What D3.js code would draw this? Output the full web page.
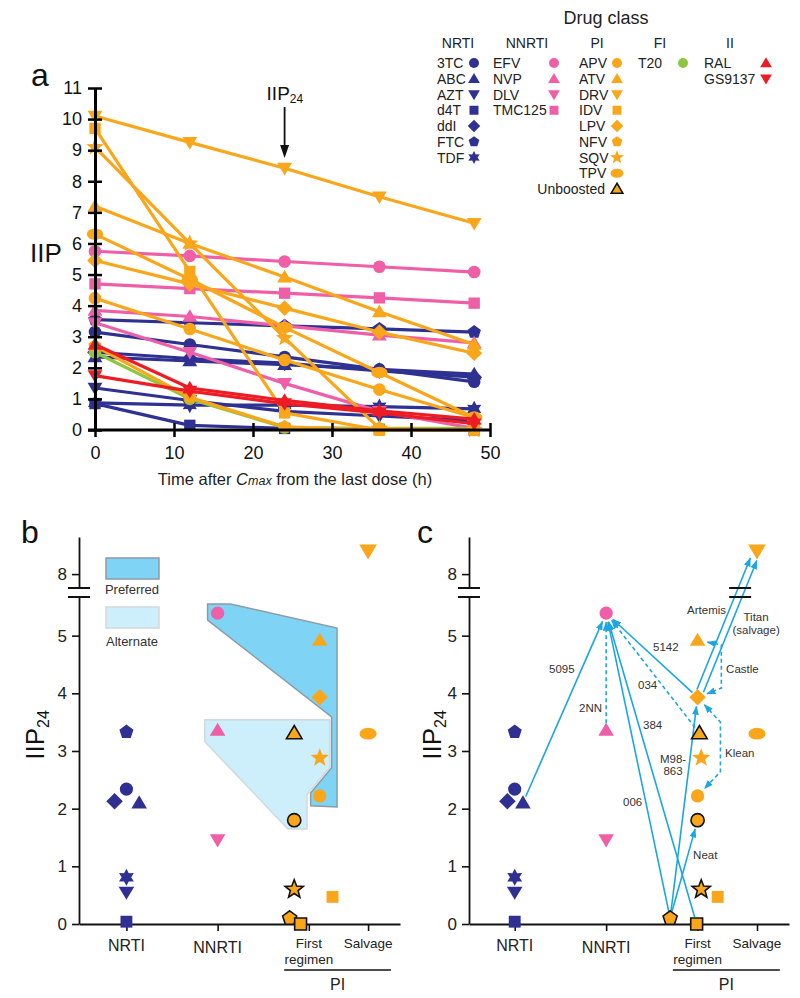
<!DOCTYPE html>
<html><head><meta charset="utf-8">
<script src="https://cdn.jsdelivr.net/npm/d3@7"></script>
<style>body{margin:0;background:#fff}</style>
</head><body><svg id="chart" width="800" height="998"></svg>
<script>
// ---------------- DATA ----------------
const times = [0, 12, 24, 36, 48];
const xTicksA = [0, 10, 20, 30, 40, 50];
const yTicksA = [0,1,2,3,4,5,6,7,8,9,10,11];

const nrtiNames = ["FTC","3TC","ddI","ABC","AZT","TDF","d4T"];
const nrtiValues = [
  [3.55,3.45,3.35,3.25,3.15],
  [3.15,2.75,2.35,1.95,1.55],
  [2.5,2.3,2.15,1.9,1.7],
  [2.35,2.22,2.1,1.95,1.8],
  [1.35,0.95,0.6,0.45,0.3],
  [0.87,0.8,0.8,0.75,0.68],
  [0.85,0.15,0.05,0.02,0.0]
];
const nnrtiNames = ["EFV","TMC125","NVP","DLV"];
const nnrtiValues = [
  [5.75,5.6,5.42,5.25,5.08],
  [4.7,4.55,4.4,4.25,4.08],
  [3.85,3.65,3.35,3.05,2.8],
  [3.45,2.5,1.5,0.6,0.05]
];
const fiNames = ["T20"];
const fiValues = [[2.5,1.0,0.08,0.05,0.05]];
const piNames = ["DRV","IDV","SQV","ATV","TPV","LPV","APV","NFV"];
const piValues = [
  [10.1,9.25,8.42,7.5,6.65],
  [9.7,5.1,0.55,0.0,0.0],
  [9.1,6.0,2.96,0.05,0.0],
  [7.2,6.0,4.92,3.8,2.75],
  [6.3,4.85,3.3,1.85,0.4],
  [5.45,4.7,3.92,3.15,2.47],
  [4.24,3.25,2.25,1.3,0.4],
  [2.7,1.05,0.1,0.0,0.0]
];
const iiNames = ["RAL","GS9137"];
const iiValues = [
  [2.75,1.35,0.95,0.62,0.35],
  [1.75,1.25,0.85,0.55,0.2]
];

const drugShape = {"3TC":"circle","ABC":"up","AZT":"down","d4T":"square","ddI":"diamond","FTC":"pentagon","TDF":"star6",
  "EFV":"circle","NVP":"up","DLV":"down","TMC125":"square",
  "APV":"circle","ATV":"up","DRV":"down","IDV":"square","LPV":"diamond","NFV":"pentagon","SQV":"star5","TPV":"ellipse",
  "T20":"circle","RAL":"up","GS9137":"down"};

const legendClasses = ["NRTI","NNRTI","PI","FI","II"];
const legendNRTI = ["3TC","ABC","AZT","d4T","ddI","FTC","TDF"];
const legendNNRTI = ["EFV","NVP","DLV","TMC125"];
const legendPI = ["APV","ATV","DRV","IDV","LPV","NFV","SQV","TPV"];
const legendFI = ["T20"];
const legendII = ["RAL","GS9137"];

// Panels b and c (IIP at 24 h)
const catNames = ["NRTI","NNRTI","First regimen","Salvage"];
const catPos = [1, 2, 3, 3.65];
const iipTicksLow = [0,1,2,3,4,5];
const iipTicksHigh = [8];
const iipDrug  = ["FTC","3TC","ddI","ABC","TDF","AZT","d4T","EFV","NVP","DLV","ATV","LPV","ATV","SQV","APV","APV","SQV","NFV","IDV","IDV","DRV","TPV"];
const iipClass = ["NRTI","NRTI","NRTI","NRTI","NRTI","NRTI","NRTI","NNRTI","NNRTI","NNRTI","PI","PI","PI","PI","PI","PI","PI","PI","PI","PI","PI","PI"];
const iipCat   = [0,0,0,0,0,0,0,1,1,1,2,2,2,2,2,2,2,2,2,2,3,3];
const iipUnboosted = [0,0,0,0,0,0,0,0,0,0,0,0,1,0,0,1,1,1,1,0,0,0];
const iipValue = [3.33,2.34,2.13,2.1,0.81,0.55,0.04,5.39,3.36,1.46,4.92,3.93,3.31,2.88,2.22,1.8,0.6,0.1,0.0,0.47,8.4,3.3];
const iipOffB  = [0,0,-0.13,0.14,0,0,0,0,0,0,0.12,0.12,-0.16,0.12,0.12,-0.16,-0.16,-0.21,-0.09,0.26,0,0];
const iipOffC  = [0,0,-0.08,0.09,0,0,0,0,0,0,0,0,0.02,0.04,0,0,0.04,-0.30,-0.01,0.22,0,0];

// Panel b regions (category units, IIP)
const prefX = [1.89,2.14,3.31,3.31,3.02,3.02,3.25,3.25,1.89];
const prefV = [5.55,5.55,5.13,2.03,2.05,2.27,2.71,3.59,5.27];
const altX  = [1.86,3.23,3.23,2.98,2.98,2.77,1.86];
const altV  = [3.54,3.54,2.72,2.24,1.65,1.65,3.16];

// Panel c trial comparisons (indices into iip arrays)
const arrowFrom  = [3,8,12,18,17,11,17,17,11,11,10,11];
const arrowTo    = [7,7,7,7,7,7,11,15,20,20,11,14];
const arrowDash  = [0,1,1,0,0,0,0,0,0,0,1,1];
const arrowShift = [0,0,0,0,0,0,0,0,-3.5,3.5,0,0];
const arrowBendDx = [null,null,null,null,null,null,null,null,null,null,0.26,0.25];
const arrowBendV1 = [null,null,null,null,null,null,null,null,null,null,4.84,3.50];
const arrowBendV2 = [null,null,null,null,null,null,null,null,null,null,4.09,2.64];
const trialLabels = ["5095","2NN","034","384","5142","Artemis","Titan","(salvage)","Castle","Klean","M98-","863","006","Neat"];
const trialLabelX = [1.375,1.955,2.349,2.404,2.513,2.885,3.64,3.64,3.312,3.301,2.732,2.732,2.185,2.951];
const trialLabelV = [4.352,3.676,4.075,3.381,4.734,5.375,5.254,5.029,4.352,2.896,2.792,2.584,2.046,1.127];
const trialAnchor = ["start","end","start","start","start","start","middle","middle","start","start","middle","middle","start","start"];

// ---------------- STYLE ----------------
const FONT = "'Liberation Sans', Arial, Helvetica, sans-serif";
const NAVY="#2E3192", PINK="#EE5FA8", ORANGE="#FAA61A", GREEN="#8DC63F", RED="#ED1C24", ARROW="#1BA6E2";
const classColor = {NRTI:NAVY, NNRTI:PINK, PI:ORANGE, FI:GREEN, II:RED};

const svg = d3.select("#chart").style("font-family", FONT);

function shapePath(type, r){
  const P = a => "M" + a.map(p => p[0].toFixed(2)+","+p[1].toFixed(2)).join("L") + "Z";
  const radial = (n, R, r2) => {
    const pts = [];
    const m = r2 ? n*2 : n;
    for (let i=0;i<m;i++){
      const ang = -Math.PI/2 + i*2*Math.PI/m;
      const rr = r2 ? (i%2===0 ? R : r2) : R;
      pts.push([rr*Math.cos(ang), rr*Math.sin(ang)]);
    }
    return P(pts);
  };
  switch(type){
    case "circle": return `M${r},0A${r},${r} 0 1,1 ${-r},0A${r},${r} 0 1,1 ${r},0Z`;
    case "ellipse": { const a=r*1.3, b=r*0.9; return `M${a},0A${a},${b} 0 1,1 ${-a},0A${a},${b} 0 1,1 ${a},0Z`; }
    case "up": return P([[0,-1.15*r],[1.18*r,0.85*r],[-1.18*r,0.85*r]]);
    case "down": return P([[0,1.15*r],[1.18*r,-0.85*r],[-1.18*r,-0.85*r]]);
    case "square": { const s=0.9*r; return P([[-s,-s],[s,-s],[s,s],[-s,s]]); }
    case "diamond": { const d=1.25*r; return P([[0,-d],[d,0],[0,d],[-d,0]]); }
    case "pentagon": return radial(5, 1.12*r);
    case "star5": return radial(5, 1.45*r, 0.62*r);
    case "star6": return radial(6, 1.3*r, 0.72*r);
  }
}

// ---------------- PANEL A ----------------
const xA = d3.scaleLinear().domain([0,50]).range([95,490]);
const yA = d3.scaleLinear().domain([0,11]).range([430,88]);
const gA = svg.append("g");

const groupsA = [
  {names:nrtiNames, values:nrtiValues, color:NAVY},
  {names:nnrtiNames, values:nnrtiValues, color:PINK},
  {names:fiNames, values:fiValues, color:GREEN},
  {names:piNames, values:piValues, color:ORANGE},
  {names:iiNames, values:iiValues, color:RED}
];
const lineA = d3.line().x((d,i)=>xA(times[i])).y(d=>yA(d));
groupsA.forEach(gr => {
  gr.names.forEach((n,k) => {
    const vals = gr.values[k];
    gA.append("path").attr("d", lineA(vals)).attr("fill","none")
      .attr("stroke", gr.color).attr("stroke-width", 3.2).attr("stroke-linejoin","round");
    vals.forEach((v,i) => {
      gA.append("path").attr("d", shapePath(drugShape[n], 6.3))
        .attr("transform", `translate(${xA(times[i])},${yA(v)})`).attr("fill", gr.color);
    });
  });
});

const axXA = gA.append("g").attr("transform", `translate(0,${yA(0)})`)
  .call(d3.axisBottom(xA).tickValues(xTicksA).tickSize(7).tickSizeOuter(0).tickPadding(9));
axXA.select(".domain").attr("stroke","#000").attr("stroke-width",3).attr("d", `M${xA(0)-7},0H${xA(50)}`);
axXA.selectAll(".tick line").attr("y1",-7).attr("stroke","#000").attr("stroke-width",2.5);
axXA.selectAll(".tick text").attr("font-size",18).attr("font-family",FONT).attr("fill","#111");

const axYA = gA.append("g").attr("transform", `translate(${xA(0)},0)`)
  .call(d3.axisLeft(yA).tickValues(yTicksA).tickSize(7).tickSizeOuter(0).tickPadding(6));
axYA.select(".domain").attr("stroke","#000").attr("stroke-width",3);
axYA.selectAll(".tick line").attr("x1",7).attr("stroke","#000").attr("stroke-width",2.5);
axYA.selectAll(".tick text").attr("font-size",18).attr("font-family",FONT).attr("fill","#111");

gA.append("text").attr("x",30).attr("y",262).attr("font-size",26).attr("fill","#111").text("IIP");
gA.append("text").attr("x",31).attr("y",86).attr("font-size",32).attr("fill","#111").text("a");

const xt = gA.append("text").attr("x",295).attr("y",485).attr("text-anchor","middle").attr("font-size",16.5).attr("fill","#222");
xt.append("tspan").text("Time after ");
xt.append("tspan").attr("font-style","italic").text("C");
xt.append("tspan").attr("font-style","italic").attr("font-size",12.5).text("max");
xt.append("tspan").text(" from the last dose (h)");

const ann = gA.append("text").attr("x", xA(24)-18).attr("y",100).attr("font-size",19).attr("fill","#111");
ann.append("tspan").text("IIP");
ann.append("tspan").attr("font-size",12).attr("dy",3).text("24");
gA.append("line").attr("x1",xA(24)).attr("x2",xA(24)).attr("y1",107).attr("y2",148).attr("stroke","#111").attr("stroke-width",1.8);
gA.append("path").attr("d",`M${xA(24)-4.5},145L${xA(24)+4.5},145L${xA(24)},158Z`).attr("fill","#111");

// Legend
const gL = svg.append("g").attr("font-size",14).attr("fill","#222");
gL.append("text").attr("x",606).attr("y",24).attr("text-anchor","middle").attr("font-size",18).text("Drug class");
const legCols = [
  {head:"NRTI", hx:458, items:legendNRTI, lx:437, mx:474, color:NAVY},
  {head:"NNRTI", hx:527, items:legendNNRTI, lx:493, mx:554, color:PINK},
  {head:"PI", hx:597, items:legendPI, lx:579, mx:617, color:ORANGE},
  {head:"FI", hx:660, items:legendFI, lx:638, mx:683, color:GREEN},
  {head:"II", hx:730, items:legendII, lx:704, mx:766, color:RED}
];
const rowY = i => 63 + i*15.75;
legCols.forEach(c => {
  gL.append("text").attr("x",c.hx).attr("y",48).attr("text-anchor","middle").text(c.head);
  c.items.forEach((n,i) => {
    gL.append("text").attr("x",c.lx).attr("y",rowY(i)+5).text(n);
    gL.append("path").attr("d",shapePath(drugShape[n],5)).attr("transform",`translate(${c.mx},${rowY(i)})`).attr("fill",c.color);
  });
});
gL.append("text").attr("x",605).attr("y",rowY(8)+5).attr("text-anchor","end").text("Unboosted");
gL.append("path").attr("d",shapePath("up",5)).attr("transform",`translate(617,${rowY(8)})`)
  .attr("fill",ORANGE).attr("stroke","#111").attr("stroke-width",1.5);

// ---------------- PANELS B & C ----------------
const defs = svg.append("defs");
defs.append("marker").attr("id","ah").attr("viewBox","0 0 9 7").attr("refX",8.5).attr("refY",3.5)
  .attr("markerWidth",9).attr("markerHeight",7).attr("markerUnits","userSpaceOnUse").attr("orient","auto-start-reverse")
  .append("path").attr("d","M0,0L9,3.5L0,7Z").attr("fill",ARROW);

function drawPanel(cfg){
  const g = svg.append("g");
  const x = d3.scaleLinear().domain(cfg.xDomain).range(cfg.xRange);
  const yLow = d3.scaleLinear().domain([0,5.67]).range([924,597]);
  const yHigh = d3.scaleLinear().domain([7.76,8.64]).range([588,537]);
  const y = v => v > 6.5 ? yHigh(v) : yLow(v);
  const x0 = cfg.xRange[0];
  const off = cfg.offsets;
  const px = i => x(catPos[iipCat[i]] + off[i]);
  const py = i => y(iipValue[i]);

  if (cfg.regions){
    g.append("path").attr("d", d3.line()(prefX.map((d,i)=>[x(d), y(prefV[i])])) + "Z")
      .attr("fill","#7FD3F5").attr("stroke","#8C9BA5").attr("stroke-width",1.5);
    g.append("path").attr("d", d3.line()(altX.map((d,i)=>[x(d), y(altV[i])])) + "Z")
      .attr("fill","#CDEEFB").attr("stroke","#D3DADE").attr("stroke-width",1.6);
    g.append("rect").attr("x",106).attr("y",558).attr("width",53).attr("height",21)
      .attr("fill","#7FD3F5").attr("stroke","#8C9BA5").attr("stroke-width",1.5);
    g.append("text").attr("x",132).attr("y",594).attr("text-anchor","middle").attr("font-size",13).attr("fill","#333").text("Preferred");
    g.append("rect").attr("x",106).attr("y",607).attr("width",53).attr("height",21)
      .attr("fill","#CDEEFB").attr("stroke","#D3DADE").attr("stroke-width",1.6);
    g.append("text").attr("x",132).attr("y",646).attr("text-anchor","middle").attr("font-size",13).attr("fill","#333").text("Alternate");
  }

  // axes
  [[yLow,iipTicksLow],[yHigh,iipTicksHigh]].forEach(([sc,tv]) => {
    const a = g.append("g").attr("transform",`translate(${x0},0)`)
      .call(d3.axisLeft(sc).tickValues(tv).tickFormat(d3.format("d")).tickSize(7).tickSizeOuter(0).tickPadding(5));
    a.select(".domain").attr("stroke","#111").attr("stroke-width",1.8);
    a.selectAll(".tick line").attr("stroke","#111").attr("stroke-width",1.6);
    a.selectAll(".tick text").attr("font-size",17).attr("font-family",FONT).attr("fill","#222");
  });
  [yHigh(7.76), yLow(5.67)].forEach(yy => {
    g.append("line").attr("x1",x0-11).attr("x2",x0+11).attr("y1",yy).attr("y2",yy).attr("stroke","#111").attr("stroke-width",2);
  });
  const ax = g.append("g").attr("transform","translate(0,924)")
    .call(d3.axisBottom(x).tickValues(catPos).tickSize(7).tickSizeOuter(0).tickFormat(""));
  ax.select(".domain").attr("stroke","#111").attr("stroke-width",1.8);
  ax.selectAll(".tick line").attr("stroke","#111").attr("stroke-width",1.6);

  const lab = g.append("g").attr("fill","#222").attr("text-anchor","middle");
  lab.append("text").attr("x",x(catPos[0])).attr("y",951).attr("font-size",16).text(catNames[0]);
  lab.append("text").attr("x",x(catPos[1])).attr("y",953).attr("font-size",16).text(catNames[1]);
  const fr = catNames[2].split(" ");
  lab.append("text").attr("x",x(catPos[2])).attr("y",948).attr("font-size",13.5).text(fr[0]);
  lab.append("text").attr("x",x(catPos[2])).attr("y",964).attr("font-size",13.5).text(fr[1]);
  lab.append("text").attr("x",x(catPos[3])).attr("y",948).attr("font-size",13.5).text(catNames[3]);
  g.append("line").attr("x1",x(2.73)).attr("x2",x(3.9)).attr("y1",970).attr("y2",970).attr("stroke","#111").attr("stroke-width",1.3);
  lab.append("text").attr("x",x((2.73+3.9)/2)).attr("y",990).attr("font-size",16).text("PI");

  // y title + panel label
  const yt = g.append("text").attr("transform",`translate(${cfg.titleX},735) rotate(-90)`)
    .attr("text-anchor","middle").attr("font-size",26).attr("fill","#111");
  yt.append("tspan").text("IIP");
  yt.append("tspan").attr("font-size",16).attr("dy",5).text("24");
  g.append("text").attr("x",cfg.labelX).attr("y",543).attr("font-size",32).attr("fill","#111").text(cfg.label);

  // arrows (panel c)
  if (cfg.arrows){
    const ga = g.append("g").attr("fill","none").attr("stroke",ARROW).attr("stroke-width",1.6);
    const shorten = (a, b, d) => { const dx=b[0]-a[0], dy=b[1]-a[1], L=Math.hypot(dx,dy); return [a[0]+dx/L*d, a[1]+dy/L*d]; };
    const crossAt = [];
    arrowFrom.forEach((f,k) => {
      const t = arrowTo[k];
      let A = [px(f), py(f)], B = [px(t), py(t)];
      if (arrowBendDx[k] !== null){
        const bx = x(catPos[iipCat[f]] + off[f] + arrowBendDx[k]);
        const k1 = [bx, y(arrowBendV1[k])], k2 = [bx, y(arrowBendV2[k])];
        const s = shorten(A, k1, 10), e = shorten(B, k2, 10);
        ga.append("path").attr("d",d3.line()([s, k1, k2, e])).attr("stroke-dasharray","4,3")
          .attr("marker-start","url(#ah)").attr("marker-end","url(#ah)");
        return;
      }
      const dx=B[0]-A[0], dy=B[1]-A[1], L=Math.hypot(dx,dy);
      const nx=-dy/L*arrowShift[k], ny=dx/L*arrowShift[k];
      A=[A[0]+nx,A[1]+ny]; B=[B[0]+nx,B[1]+ny];
      const s = shorten(A,B,7), e = shorten(B,A,9);
      const p = ga.append("path").attr("d", d3.line()([s,e])).attr("marker-end","url(#ah)");
      if (arrowDash[k]) p.attr("stroke-dasharray","4,3");
      if (arrowTo[k] === 20){
        const ym = (yHigh(7.76)+yLow(5.67))/2;
        crossAt.push(s[0] + (e[0]-s[0])*(ym-s[1])/(e[1]-s[1]));
      }
    });
    if (crossAt.length){
      const cx = d3.mean(crossAt);
      [yHigh(7.76), yLow(5.67)].forEach(yy => {
        g.append("line").attr("x1",cx-11).attr("x2",cx+11).attr("y1",yy).attr("y2",yy).attr("stroke","#111").attr("stroke-width",2);
      });
    }
    const gt = g.append("g").attr("font-size",11.5).attr("fill","#333");
    trialLabels.forEach((t,i) => {
      gt.append("text").attr("x",x(trialLabelX[i])).attr("y",y(trialLabelV[i])).attr("text-anchor",trialAnchor[i]).text(t);
    });
  }

  // markers
  iipDrug.forEach((n,i) => {
    const r = iipDrug[i]==="DRV" ? 7.5 : 6.6;
    const m = g.append("path").attr("d", shapePath(drugShape[n], r))
      .attr("transform",`translate(${px(i)},${py(i)})`).attr("fill", classColor[iipClass[i]]);
    if (iipUnboosted[i]) m.attr("stroke","#111").attr("stroke-width",1.6);
  });
}

drawPanel({xDomain:[0.48,4.0], xRange:[79,400], offsets:iipOffB, regions:true, arrows:false, titleX:44, label:"b", labelX:21});
drawPanel({xDomain:[0.5,4.0], xRange:[469,789], offsets:iipOffC, regions:false, arrows:true, titleX:441, label:"c", labelX:417});
</script>
</body></html>
